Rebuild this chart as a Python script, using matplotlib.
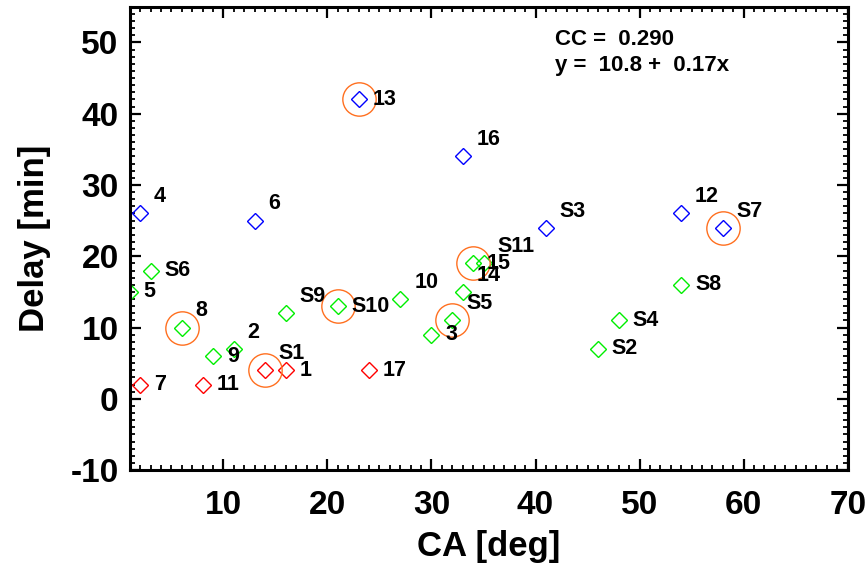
import matplotlib
matplotlib.use("Agg")
import matplotlib.pyplot as plt

plt.rcParams['font.family'] = ['Liberation Sans', 'DejaVu Sans']
plt.rcParams['font.weight'] = 'bold'
plt.rcParams['axes.unicode_minus'] = False

# events with delay vs CA, grouped by colour
blue_names = ['4', '6', '13', '16', 'S3', '12', 'S7']
blue_x = [2, 13, 23, 33, 41, 54, 58]
blue_y = [26, 25, 42, 34, 24, 26, 24]

green_names = ['5', 'S6', '8', '9', '2', 'S9', 'S10', '10', '3', 'S5',
               '14', '15', 'S11', 'S2', 'S4', 'S8']
green_x = [1, 3, 6, 9, 11, 16, 21, 27, 30, 32, 33, 34, 35, 46, 48, 54]
green_y = [15, 18, 10, 6, 7, 12, 13, 14, 9, 11, 15, 19, 19, 7, 11, 16]

red_names = ['7', '11', 'S1', '1', '17']
red_x = [2, 8, 14, 16, 24]
red_y = [2, 2, 4, 4, 4]

circled = ['13', 'S7', '8', 'S10', 'S5', '15', 'S1']
upper_labels = ['4', '6', '16', 'S3', '12', 'S7', '8', '2', 'S1', 'S9',
                '10', '14', 'S5', 'S11']

cc_text = 'CC =  0.290'
fit_text = 'y =  10.8 +  0.17x'

fig = plt.figure(figsize=(8.65, 5.65), dpi=100)
ax = fig.add_axes([0.150, 0.168, 0.830, 0.820])

groups = [(blue_names, blue_x, blue_y, '#0000ff'),
          (green_names, green_x, green_y, '#00ee00'),
          (red_names, red_x, red_y, '#ff0000')]

for names, xs, ys, col in groups:
    ax.plot(xs, ys, 'D', ms=8.2, mfc='none', mec=col, mew=1.0)
    for n, x, y in zip(names, xs, ys):
        if n in circled:
            ax.plot(x, y, 'o', ms=24, mfc='none', mec='#ff7020', mew=1.0)
        dy = 12 if n in upper_labels else 0
        ax.annotate(n, (x, y), xytext=(10, dy), textcoords='offset points',
                    ha='left', va='center', fontsize=15.5, fontweight='bold')

ax.text(0.592, 0.929, cc_text, transform=ax.transAxes, fontsize=16,
        fontweight='bold', va='center')
ax.text(0.592, 0.873, fit_text, transform=ax.transAxes, fontsize=16,
        fontweight='bold', va='center')

ax.set_xlim(1, 70)
ax.set_ylim(-10, 55)
ax.set_xticks([10, 20, 30, 40, 50, 60, 70])
ax.set_yticks([-10, 0, 10, 20, 30, 40, 50])
ax.set_xticks(range(2, 70), minor=True)
ax.set_yticks(range(-10, 56), minor=True)

ax.tick_params(which='both', direction='in', top=True, right=True,
               labeltop=False, labelright=False)
ax.tick_params(which='major', length=8, width=1.6, labelsize=24)
ax.tick_params(axis='x', which='major', pad=14)
ax.tick_params(axis='y', which='major', pad=8)
ax.tick_params(which='minor', length=3.8, width=1.3)
for lab in ax.get_xticklabels() + ax.get_yticklabels():
    lab.set_fontweight('bold')
for s in ax.spines.values():
    s.set_linewidth(2.2)

ax.set_xlabel('CA [deg]', fontsize=25, fontweight='bold', labelpad=7)
ax.set_ylabel('Delay [min]', fontsize=25, fontweight='bold', labelpad=14)

fig.savefig('out.png', dpi=100)
